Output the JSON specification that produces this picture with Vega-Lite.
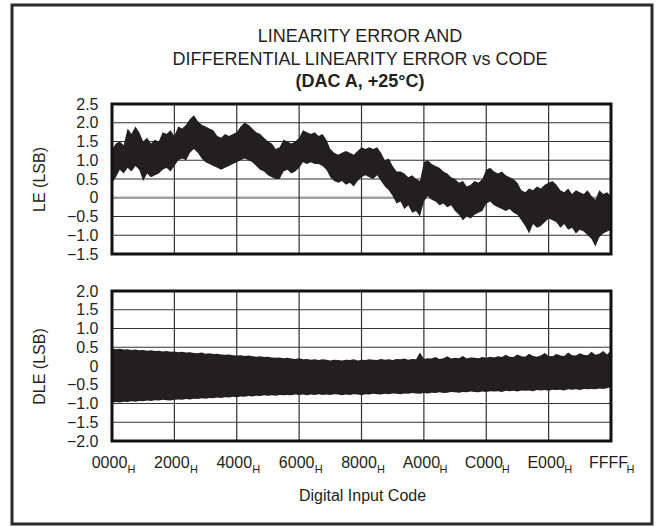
{
  "$schema": "https://vega.github.io/schema/vega-lite/v6.json",
  "autosize": {"type": "none"},
  "padding": {"left": 12, "top": 5, "right": 5, "bottom": 3},
  "width": 640,
  "height": 519,
  "background": "white",
  "config": {
    "font": "Liberation Sans",
    "view": {"stroke": "#2b2b2b", "strokeWidth": 3},
    "axis": {
      "labelFont": "Liberation Sans", "labelFontSize": 16, "labelColor": "#231f20",
      "titleFont": "Liberation Sans", "titleFontSize": 16, "titleFontWeight": "normal", "titleColor": "#231f20",
      "ticks": false, "tickSize": 0, "domain": false, "grid": false,
      "labelFlush": false, "labelOverlap": false
    }
  },
  "title": {
    "text": ["LINEARITY ERROR AND", "DIFFERENTIAL LINEARITY ERROR vs CODE"],
    "subtitle": "(DAC A, +25°C)",
    "font": "Liberation Sans", "subtitleFont": "Liberation Sans",
    "fontSize": 18, "fontWeight": "normal", "lineHeight": 23,
    "subtitleFontSize": 18, "subtitleFontWeight": "bold", "subtitleLineHeight": 23,
    "subtitlePadding": 4, "offset": -86, "anchor": "middle", "frame": "group", "dx": 28,
    "color": "#231f20", "subtitleColor": "#231f20"
  },
  "datasets": {
    "leGrid": [{"v": -1}, {"v": -0.5}, {"v": 0.5}, {"v": 1}, {"v": 1.5}, {"v": 2}],
    "leZero": [{"v": 0}],
    "dleGrid": [{"v": -1.5}, {"v": -1}, {"v": -0.5}, {"v": 0}, {"v": 0.5}, {"v": 1}, {"v": 1.5}],
    "vGrid": [{"code": 8192}, {"code": 16384}, {"code": 24576}, {"code": 32768}, {"code": 40960}, {"code": 49152}, {"code": 57344}],
    "d": [
      {"code":0,"leHi":1.3,"leLo":0.4,"dleHi":0.47,"dleLo":-0.98},
      {"code":512,"leHi":1.45,"leLo":0.55,"dleHi":0.45,"dleLo":-0.96},
      {"code":1024,"leHi":1.5,"leLo":0.75,"dleHi":0.46,"dleLo":-0.97},
      {"code":1536,"leHi":1.4,"leLo":0.65,"dleHi":0.44,"dleLo":-0.95},
      {"code":2048,"leHi":1.85,"leLo":0.8,"dleHi":0.45,"dleLo":-0.96},
      {"code":2560,"leHi":1.7,"leLo":0.7,"dleHi":0.43,"dleLo":-0.94},
      {"code":3072,"leHi":1.9,"leLo":0.85,"dleHi":0.44,"dleLo":-0.95},
      {"code":3584,"leHi":1.75,"leLo":0.75,"dleHi":0.42,"dleLo":-0.93},
      {"code":4096,"leHi":1.5,"leLo":0.45,"dleHi":0.43,"dleLo":-0.94},
      {"code":4608,"leHi":1.6,"leLo":0.65,"dleHi":0.41,"dleLo":-0.92},
      {"code":5120,"leHi":1.45,"leLo":0.55,"dleHi":0.42,"dleLo":-0.93},
      {"code":5632,"leHi":1.55,"leLo":0.6,"dleHi":0.40,"dleLo":-0.91},
      {"code":6144,"leHi":1.5,"leLo":0.65,"dleHi":0.41,"dleLo":-0.92},
      {"code":6656,"leHi":1.75,"leLo":0.75,"dleHi":0.39,"dleLo":-0.90},
      {"code":7168,"leHi":1.7,"leLo":0.8,"dleHi":0.40,"dleLo":-0.91},
      {"code":7680,"leHi":1.8,"leLo":0.7,"dleHi":0.38,"dleLo":-0.92},
      {"code":8192,"leHi":1.65,"leLo":0.85,"dleHi":0.39,"dleLo":-0.90},
      {"code":8704,"leHi":1.9,"leLo":1.0,"dleHi":0.37,"dleLo":-0.89},
      {"code":9216,"leHi":1.85,"leLo":1.05,"dleHi":0.38,"dleLo":-0.90},
      {"code":9728,"leHi":1.95,"leLo":1.0,"dleHi":0.36,"dleLo":-0.88},
      {"code":10240,"leHi":2.1,"leLo":1.2,"dleHi":0.37,"dleLo":-0.89},
      {"code":10752,"leHi":2.2,"leLo":1.3,"dleHi":0.35,"dleLo":-0.87},
      {"code":11264,"leHi":2.05,"leLo":1.2,"dleHi":0.34,"dleLo":-0.88},
      {"code":11776,"leHi":1.95,"leLo":1.05,"dleHi":0.36,"dleLo":-0.86},
      {"code":12288,"leHi":1.9,"leLo":0.95,"dleHi":0.33,"dleLo":-0.87},
      {"code":12800,"leHi":1.85,"leLo":0.9,"dleHi":0.34,"dleLo":-0.85},
      {"code":13312,"leHi":1.8,"leLo":0.85,"dleHi":0.32,"dleLo":-0.86},
      {"code":13824,"leHi":1.65,"leLo":0.8,"dleHi":0.33,"dleLo":-0.84},
      {"code":14336,"leHi":1.6,"leLo":0.75,"dleHi":0.31,"dleLo":-0.85},
      {"code":14848,"leHi":1.7,"leLo":0.8,"dleHi":0.30,"dleLo":-0.83},
      {"code":15360,"leHi":1.65,"leLo":0.85,"dleHi":0.31,"dleLo":-0.84},
      {"code":15872,"leHi":1.7,"leLo":0.9,"dleHi":0.29,"dleLo":-0.82},
      {"code":16384,"leHi":1.75,"leLo":0.95,"dleHi":0.28,"dleLo":-0.83},
      {"code":16896,"leHi":1.9,"leLo":1.0,"dleHi":0.29,"dleLo":-0.81},
      {"code":17408,"leHi":2.0,"leLo":1.05,"dleHi":0.27,"dleLo":-0.82},
      {"code":17920,"leHi":1.95,"leLo":1.0,"dleHi":0.28,"dleLo":-0.80},
      {"code":18432,"leHi":1.85,"leLo":0.95,"dleHi":0.26,"dleLo":-0.81},
      {"code":18944,"leHi":1.75,"leLo":0.85,"dleHi":0.25,"dleLo":-0.79},
      {"code":19456,"leHi":1.7,"leLo":0.75,"dleHi":0.26,"dleLo":-0.80},
      {"code":19968,"leHi":1.6,"leLo":0.7,"dleHi":0.24,"dleLo":-0.78},
      {"code":20480,"leHi":1.5,"leLo":0.6,"dleHi":0.25,"dleLo":-0.79},
      {"code":20992,"leHi":1.45,"leLo":0.55,"dleHi":0.23,"dleLo":-0.78},
      {"code":21504,"leHi":1.3,"leLo":0.5,"dleHi":0.22,"dleLo":-0.79},
      {"code":22016,"leHi":1.35,"leLo":0.5,"dleHi":0.23,"dleLo":-0.77},
      {"code":22528,"leHi":1.55,"leLo":0.7,"dleHi":0.21,"dleLo":-0.78},
      {"code":23040,"leHi":1.5,"leLo":0.75,"dleHi":0.22,"dleLo":-0.77},
      {"code":23552,"leHi":1.45,"leLo":0.65,"dleHi":0.20,"dleLo":-0.78},
      {"code":24064,"leHi":1.5,"leLo":0.7,"dleHi":0.19,"dleLo":-0.76},
      {"code":24576,"leHi":1.6,"leLo":0.8,"dleHi":0.21,"dleLo":-0.77},
      {"code":25088,"leHi":1.8,"leLo":0.95,"dleHi":0.18,"dleLo":-0.76},
      {"code":25600,"leHi":1.75,"leLo":0.9,"dleHi":0.19,"dleLo":-0.78},
      {"code":26112,"leHi":1.7,"leLo":0.95,"dleHi":0.17,"dleLo":-0.76},
      {"code":26624,"leHi":1.75,"leLo":0.9,"dleHi":0.18,"dleLo":-0.77},
      {"code":27136,"leHi":1.65,"leLo":0.9,"dleHi":0.16,"dleLo":-0.75},
      {"code":27648,"leHi":1.7,"leLo":0.85,"dleHi":0.18,"dleLo":-0.77},
      {"code":28160,"leHi":1.55,"leLo":0.75,"dleHi":0.17,"dleLo":-0.76},
      {"code":28672,"leHi":1.3,"leLo":0.55,"dleHi":0.15,"dleLo":-0.77},
      {"code":29184,"leHi":1.2,"leLo":0.45,"dleHi":0.17,"dleLo":-0.75},
      {"code":29696,"leHi":1.15,"leLo":0.4,"dleHi":0.16,"dleLo":-0.76},
      {"code":30208,"leHi":1.2,"leLo":0.45,"dleHi":0.15,"dleLo":-0.78},
      {"code":30720,"leHi":1.25,"leLo":0.35,"dleHi":0.17,"dleLo":-0.76},
      {"code":31232,"leHi":1.2,"leLo":0.4,"dleHi":0.16,"dleLo":-0.77},
      {"code":31744,"leHi":1.15,"leLo":0.3,"dleHi":0.18,"dleLo":-0.75},
      {"code":32256,"leHi":1.25,"leLo":0.45,"dleHi":0.15,"dleLo":-0.76},
      {"code":32768,"leHi":1.35,"leLo":0.55,"dleHi":0.17,"dleLo":-0.78},
      {"code":33280,"leHi":1.3,"leLo":0.6,"dleHi":0.16,"dleLo":-0.75},
      {"code":33792,"leHi":1.35,"leLo":0.55,"dleHi":0.18,"dleLo":-0.76},
      {"code":34304,"leHi":1.3,"leLo":0.5,"dleHi":0.17,"dleLo":-0.74},
      {"code":34816,"leHi":1.35,"leLo":0.6,"dleHi":0.16,"dleLo":-0.75},
      {"code":35328,"leHi":1.2,"leLo":0.45,"dleHi":0.19,"dleLo":-0.76},
      {"code":35840,"leHi":1.0,"leLo":0.3,"dleHi":0.17,"dleLo":-0.74},
      {"code":36352,"leHi":1.05,"leLo":0.2,"dleHi":0.18,"dleLo":-0.75},
      {"code":36864,"leHi":0.85,"leLo":0.05,"dleHi":0.16,"dleLo":-0.73},
      {"code":37376,"leHi":0.7,"leLo":-0.15,"dleHi":0.19,"dleLo":-0.74},
      {"code":37888,"leHi":0.7,"leLo":-0.1,"dleHi":0.18,"dleLo":-0.75},
      {"code":38400,"leHi":0.65,"leLo":-0.3,"dleHi":0.20,"dleLo":-0.73},
      {"code":38912,"leHi":0.55,"leLo":-0.2,"dleHi":0.17,"dleLo":-0.74},
      {"code":39424,"leHi":0.6,"leLo":-0.4,"dleHi":0.19,"dleLo":-0.72},
      {"code":39936,"leHi":0.5,"leLo":-0.35,"dleHi":0.18,"dleLo":-0.73},
      {"code":40448,"leHi":0.45,"leLo":-0.5,"dleHi":0.36,"dleLo":-0.74},
      {"code":40960,"leHi":0.95,"leLo":-0.1,"dleHi":0.19,"dleLo":-0.72},
      {"code":41472,"leHi":1.0,"leLo":0.05,"dleHi":0.21,"dleLo":-0.73},
      {"code":41984,"leHi":0.9,"leLo":-0.05,"dleHi":0.20,"dleLo":-0.71},
      {"code":42496,"leHi":0.85,"leLo":-0.1,"dleHi":0.24,"dleLo":-0.72},
      {"code":43008,"leHi":0.8,"leLo":-0.2,"dleHi":0.19,"dleLo":-0.70},
      {"code":43520,"leHi":0.7,"leLo":-0.15,"dleHi":0.21,"dleLo":-0.72},
      {"code":44032,"leHi":0.65,"leLo":-0.25,"dleHi":0.26,"dleLo":-0.71},
      {"code":44544,"leHi":0.55,"leLo":-0.2,"dleHi":0.20,"dleLo":-0.69},
      {"code":45056,"leHi":0.5,"leLo":-0.35,"dleHi":0.22,"dleLo":-0.70},
      {"code":45568,"leHi":0.4,"leLo":-0.45,"dleHi":0.21,"dleLo":-0.71},
      {"code":46080,"leHi":0.45,"leLo":-0.6,"dleHi":0.27,"dleLo":-0.69},
      {"code":46592,"leHi":0.3,"leLo":-0.5,"dleHi":0.20,"dleLo":-0.70},
      {"code":47104,"leHi":0.35,"leLo":-0.55,"dleHi":0.23,"dleLo":-0.68},
      {"code":47616,"leHi":0.45,"leLo":-0.45,"dleHi":0.22,"dleLo":-0.69},
      {"code":48128,"leHi":0.4,"leLo":-0.4,"dleHi":0.21,"dleLo":-0.70},
      {"code":48640,"leHi":0.5,"leLo":-0.35,"dleHi":0.24,"dleLo":-0.68},
      {"code":49152,"leHi":0.75,"leLo":-0.15,"dleHi":0.22,"dleLo":-0.69},
      {"code":49664,"leHi":0.8,"leLo":-0.1,"dleHi":0.25,"dleLo":-0.67},
      {"code":50176,"leHi":0.7,"leLo":-0.2,"dleHi":0.23,"dleLo":-0.68},
      {"code":50688,"leHi":0.65,"leLo":-0.25,"dleHi":0.26,"dleLo":-0.67},
      {"code":51200,"leHi":0.7,"leLo":-0.3,"dleHi":0.24,"dleLo":-0.69},
      {"code":51712,"leHi":0.6,"leLo":-0.35,"dleHi":0.30,"dleLo":-0.66},
      {"code":52224,"leHi":0.55,"leLo":-0.3,"dleHi":0.25,"dleLo":-0.67},
      {"code":52736,"leHi":0.5,"leLo":-0.4,"dleHi":0.24,"dleLo":-0.66},
      {"code":53248,"leHi":0.4,"leLo":-0.45,"dleHi":0.31,"dleLo":-0.68},
      {"code":53760,"leHi":0.2,"leLo":-0.6,"dleHi":0.26,"dleLo":-0.65},
      {"code":54272,"leHi":0.15,"leLo":-0.75,"dleHi":0.25,"dleLo":-0.66},
      {"code":54784,"leHi":0.25,"leLo":-0.95,"dleHi":0.33,"dleLo":-0.65},
      {"code":55296,"leHi":0.2,"leLo":-0.7,"dleHi":0.27,"dleLo":-0.67},
      {"code":55808,"leHi":0.3,"leLo":-0.8,"dleHi":0.25,"dleLo":-0.64},
      {"code":56320,"leHi":0.25,"leLo":-0.75,"dleHi":0.28,"dleLo":-0.65},
      {"code":56832,"leHi":0.35,"leLo":-0.65,"dleHi":0.35,"dleLo":-0.64},
      {"code":57344,"leHi":0.4,"leLo":-0.55,"dleHi":0.27,"dleLo":-0.66},
      {"code":57856,"leHi":0.45,"leLo":-0.6,"dleHi":0.26,"dleLo":-0.63},
      {"code":58368,"leHi":0.35,"leLo":-0.65,"dleHi":0.32,"dleLo":-0.64},
      {"code":58880,"leHi":0.2,"leLo":-0.8,"dleHi":0.28,"dleLo":-0.63},
      {"code":59392,"leHi":0.15,"leLo":-0.7,"dleHi":0.27,"dleLo":-0.65},
      {"code":59904,"leHi":0.25,"leLo":-0.85,"dleHi":0.36,"dleLo":-0.62},
      {"code":60416,"leHi":0.1,"leLo":-0.8,"dleHi":0.29,"dleLo":-0.63},
      {"code":60928,"leHi":0.2,"leLo":-0.95,"dleHi":0.28,"dleLo":-0.62},
      {"code":61440,"leHi":0.15,"leLo":-0.85,"dleHi":0.34,"dleLo":-0.64},
      {"code":61952,"leHi":0.1,"leLo":-0.9,"dleHi":0.30,"dleLo":-0.61},
      {"code":62464,"leHi":0.2,"leLo":-1.0,"dleHi":0.29,"dleLo":-0.62},
      {"code":62976,"leHi":0.05,"leLo":-1.1,"dleHi":0.38,"dleLo":-0.61},
      {"code":63488,"leHi":-0.05,"leLo":-1.3,"dleHi":0.30,"dleLo":-0.62},
      {"code":64000,"leHi":0.2,"leLo":-1.05,"dleHi":0.33,"dleLo":-0.60},
      {"code":64512,"leHi":0.1,"leLo":-0.95,"dleHi":0.40,"dleLo":-0.61},
      {"code":65024,"leHi":0.15,"leLo":-0.9,"dleHi":0.31,"dleLo":-0.59},
      {"code":65535,"leHi":0.05,"leLo":-0.85,"dleHi":0.42,"dleLo":-0.56}
    ]
  },
  "resolve": {"scale": {"y": "independent"}, "axis": {"x": "independent", "y": "independent"}},
  "layer": [
    {
      "data": {"name": "leGrid"},
      "mark": {"type": "rule", "color": "#333333", "strokeWidth": 1.2},
      "encoding": {
        "y": {"field": "v", "type": "quantitative",
          "scale": {"domain": [-8.7, 5.14], "nice": false, "zero": false},
          "axis": {
            "orient": "left", "offset": -100,
            "values": [-1.5, -1, -0.5, 0, 0.5, 1, 1.5, 2, 2.5],
            "labelExpr": "datum.value === 0 ? '0' : format(datum.value, '.1f')",
            "labelPadding": 14, "title": "LE (LSB)", "titlePadding": 19, "titleY": 174
          }},
        "x": {"datum": 0, "type": "quantitative",
          "scale": {"domain": [-13133, 70920], "nice": false, "zero": false},
          "axis": null},
        "x2": {"datum": 65535}
      }
    },
    {
      "data": {"name": "leZero"},
      "mark": {"type": "rule", "color": "#a0a0a0", "strokeWidth": 2.5},
      "encoding": {
        "y": {"field": "v", "type": "quantitative", "scale": {"domain": [-8.7, 5.14], "nice": false, "zero": false}, "axis": null},
        "x": {"datum": 0, "type": "quantitative", "axis": null},
        "x2": {"datum": 65535}
      }
    },
    {
      "data": {"name": "vGrid"},
      "mark": {"type": "rule", "color": "#333333", "strokeWidth": 1.2},
      "encoding": {
        "x": {"field": "code", "type": "quantitative", "axis": null},
        "y": {"datum": -1.5, "type": "quantitative", "scale": {"domain": [-8.7, 5.14], "nice": false, "zero": false}, "axis": null},
        "y2": {"datum": 2.5}
      }
    },
    {
      "data": {"name": "d"},
      "mark": {"type": "area", "color": "#231f20"},
      "encoding": {
        "x": {"field": "code", "type": "quantitative", "axis": null},
        "y": {"field": "leHi", "type": "quantitative", "scale": {"domain": [-8.7, 5.14], "nice": false, "zero": false}, "axis": null},
        "y2": {"field": "leLo"}
      }
    },
    {
      "data": {"values": [{}]},
      "mark": {"type": "rect", "fill": null, "stroke": "#111111", "strokeWidth": 3},
      "encoding": {
        "x": {"datum": 0, "type": "quantitative", "axis": null},
        "x2": {"datum": 65535},
        "y": {"datum": -1.5, "type": "quantitative", "scale": {"domain": [-8.7, 5.14], "nice": false, "zero": false}, "axis": null},
        "y2": {"datum": 2.5}
      }
    },
    {
      "data": {"name": "dleGrid"},
      "mark": {"type": "rule", "color": "#333333", "strokeWidth": 1.2},
      "encoding": {
        "y": {"field": "v", "type": "quantitative",
          "scale": {"domain": [-4.2133, 9.6267], "nice": false, "zero": false},
          "axis": {
            "orient": "left", "offset": -100,
            "values": [-2, -1.5, -1, -0.5, 0, 0.5, 1, 1.5, 2],
            "labelExpr": "datum.value === 0 ? '0' : format(datum.value, '.1f')",
            "labelPadding": 14, "title": "DLE (LSB)", "titlePadding": 19, "titleY": 361
          }},
        "x": {"datum": 0, "type": "quantitative",
          "axis": {
            "orient": "bottom", "offset": -83,
            "values": [0, 8192, 16384, 24576, 32768, 40960, 49152, 57344, 65535],
            "labelExpr": "['0000','2000','4000','6000','8000','A000','C000','E000','FFFF'][round(datum.value/8192)]",
            "labelPadding": 13, "labelOffset": -3,
            "title": "Digital Input Code", "titlePadding": 17, "titleX": 350
          }},
        "x2": {"datum": 65535}
      }
    },
    {
      "data": {"name": "vGrid"},
      "mark": {"type": "rule", "color": "#333333", "strokeWidth": 1.2},
      "encoding": {
        "x": {"field": "code", "type": "quantitative", "axis": null},
        "y": {"datum": -2, "type": "quantitative", "scale": {"domain": [-4.2133, 9.6267], "nice": false, "zero": false}, "axis": null},
        "y2": {"datum": 2}
      }
    },
    {
      "data": {"name": "d"},
      "mark": {"type": "area", "color": "#231f20"},
      "encoding": {
        "x": {"field": "code", "type": "quantitative", "axis": null},
        "y": {"field": "dleHi", "type": "quantitative", "scale": {"domain": [-4.2133, 9.6267], "nice": false, "zero": false}, "axis": null},
        "y2": {"field": "dleLo"}
      }
    },
    {
      "data": {"values": [{}]},
      "mark": {"type": "rect", "fill": null, "stroke": "#111111", "strokeWidth": 3},
      "encoding": {
        "x": {"datum": 0, "type": "quantitative", "axis": null},
        "x2": {"datum": 65535},
        "y": {"datum": -2, "type": "quantitative", "scale": {"domain": [-4.2133, 9.6267], "nice": false, "zero": false}, "axis": null},
        "y2": {"datum": 2}
      }
    },
    {
      "data": {"name": "vGrid"},
      "mark": {"type": "rule", "opacity": 0},
      "encoding": {
        "x": {"field": "code", "type": "quantitative",
          "axis": {
            "orient": "bottom", "offset": -83,
            "values": [0, 8192, 16384, 24576, 32768, 40960, 49152, 57344, 65535],
            "labelExpr": "'H'", "labelFontSize": 11,
            "labelPadding": 22, "labelOffset": 19,
            "title": null
          }}
      }
    }
  ]
}
